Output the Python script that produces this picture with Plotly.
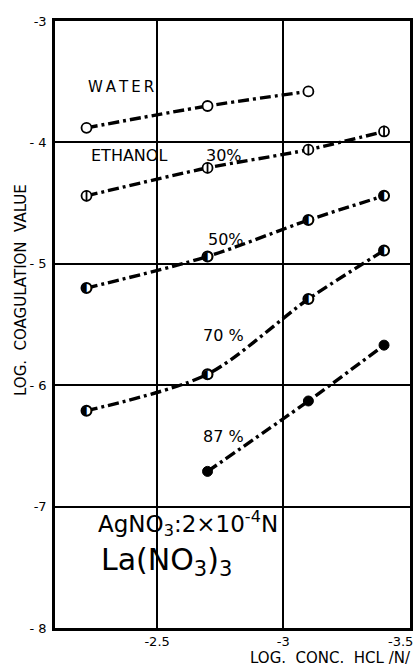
import plotly.graph_objects as go

# Data
log_hcl = [-2.22, -2.70, -3.10, -3.40]
water = [-3.88, -3.70, -3.58, None]
eth30 = [-4.44, -4.21, -4.06, -3.91]
eth50 = [-5.20, -4.94, -4.64, -4.44]
eth70 = [-6.21, -5.91, -5.29, -4.89]
eth87 = [None, -6.71, -6.13, -5.67]

x_ticks = [-2.5, -3.0, -3.5]
x_ticktext = ["-2.5", "-3", "-3.5"]
y_ticks = [-8, -7, -6, -5, -4, -3]
y_ticktext = ["- 8", "-7", "- 6", "- 5", "- 4", "-3"]

FONT = "DejaVu Sans"
DASH = "11px,4px,3px,4px"

L, R, T, B = 55, 410, 21, 628
W, H = 415, 670


def px(x):
    return (x - L) / (R - L)


def py(y):
    return (B - y) / (B - T)


def xs_ys(vals):
    xx = [x for x, v in zip(log_hcl, vals) if v is not None]
    yy = [v for v in vals if v is not None]
    return xx, yy


fig = go.Figure()

line_style = dict(color="black", width=3.4, dash=DASH, shape="spline", smoothing=0.8)

# water: open circles
x, y = xs_ys(water)
fig.add_trace(go.Scatter(x=x, y=y, mode="lines+markers", line=line_style,
                         marker=dict(symbol="circle", size=10, color="white",
                                     line=dict(color="black", width=1.8))))
# 30 %: circle with vertical bar
x, y = xs_ys(eth30)
fig.add_trace(go.Scatter(x=x, y=y, mode="lines+markers", line=line_style,
                         marker=dict(symbol="circle", size=10, color="white",
                                     line=dict(color="black", width=1.8))))
fig.add_trace(go.Scatter(x=x, y=y, mode="markers",
                         marker=dict(symbol="line-ns-open", size=8, color="black",
                                     line=dict(color="black", width=1.8))))
# 50 % and 70 %: half-filled circles
for vals in (eth50, eth70):
    x, y = xs_ys(vals)
    fig.add_trace(go.Scatter(x=x, y=y, mode="lines+markers", line=line_style,
                             marker=dict(symbol="circle", size=10, color="white",
                                         line=dict(color="black", width=2))))
    fig.add_trace(go.Scatter(x=x, y=y, mode="text", text=["\u25D0"] * len(x),
                             textposition="middle center",
                             textfont=dict(family=FONT, size=13, color="black")))
# 87 %: filled circles
x, y = xs_ys(eth87)
fig.add_trace(go.Scatter(x=x, y=y, mode="lines+markers", line=line_style,
                         marker=dict(symbol="circle", size=10, color="black",
                                     line=dict(color="black", width=1))))

# in-plot labels (positions in data coordinates)
labels = [
    dict(text="W\u2009A\u2009T\u2009E\u2009R", x=-2.358, y=-3.545, size=15),
    dict(text="ETHANOL", x=-2.39, y=-4.11, size=16),
    dict(text="30%", x=-2.764, y=-4.11, size=16),
    dict(text="50%", x=-2.772, y=-4.80, size=16),
    dict(text="70 %", x=-2.764, y=-5.587, size=16),
    dict(text="87 %", x=-2.764, y=-6.425, size=16),
    dict(text="AgNO<sub>3</sub>:2×10<sup>-4</sup>N", x=-2.622, y=-7.142, size=23),
    dict(text="La(NO<sub>3</sub>)<sub>3</sub>", x=-2.539, y=-7.45, size=30),
]
for a in labels:
    fig.add_annotation(text=a["text"], x=a["x"], y=a["y"], xref="x", yref="y",
                       showarrow=False, xanchor="center", yanchor="middle",
                       font=dict(family=FONT, size=a["size"], color="black"))

# last x tick label drawn right-aligned so it stays inside the page
fig.add_annotation(text=x_ticktext[-1], x=1.0 + 5 / (R - L), y=0, xref="paper",
                   yref="paper", showarrow=False, xanchor="right", yanchor="top",
                   yshift=-4, font=dict(family=FONT, size=13, color="black"))

# axis titles
fig.add_annotation(text="LOG.  COAGULATION  VALUE", x=px(21), y=py(290),
                   xref="paper", yref="paper", showarrow=False, textangle=-90,
                   xanchor="center", yanchor="middle",
                   font=dict(family=FONT, size=15, color="black"))
fig.add_annotation(text="LOG.  CONC.  HCL /N/", x=px(413), y=py(658),
                   xref="paper", yref="paper", showarrow=False,
                   xanchor="right", yanchor="middle",
                   font=dict(family=FONT, size=15, color="black"))

fig.update_xaxes(range=[-2.095, -3.503], tickvals=x_ticks,
                 ticktext=x_ticktext[:-1] + [""],
                 showgrid=True, gridcolor="black", gridwidth=1.5,
                 showline=True, linecolor="black", linewidth=2.5, mirror=True,
                 ticks="", zeroline=False, automargin=False,
                 tickfont=dict(family=FONT, size=13, color="black"))
fig.update_yaxes(range=[-8, -3], tickvals=y_ticks, ticktext=y_ticktext,
                 showgrid=True, gridcolor="black", gridwidth=1.5,
                 showline=True, linecolor="black", linewidth=2.5, mirror=True,
                 ticks="", zeroline=False, ticklabelstandoff=3,
                 automargin=False,
                 tickfont=dict(family=FONT, size=13, color="black"))

fig.update_layout(width=W, height=H, showlegend=False,
                  margin=dict(l=L, r=W - R, t=T, b=H - B, autoexpand=False),
                  paper_bgcolor="white", plot_bgcolor="white")

fig.write_html("out.html", config={"displayModeBar": False},
               post_script="document.body.style.margin='0';"
                           "document.body.style.overflow='hidden';")
